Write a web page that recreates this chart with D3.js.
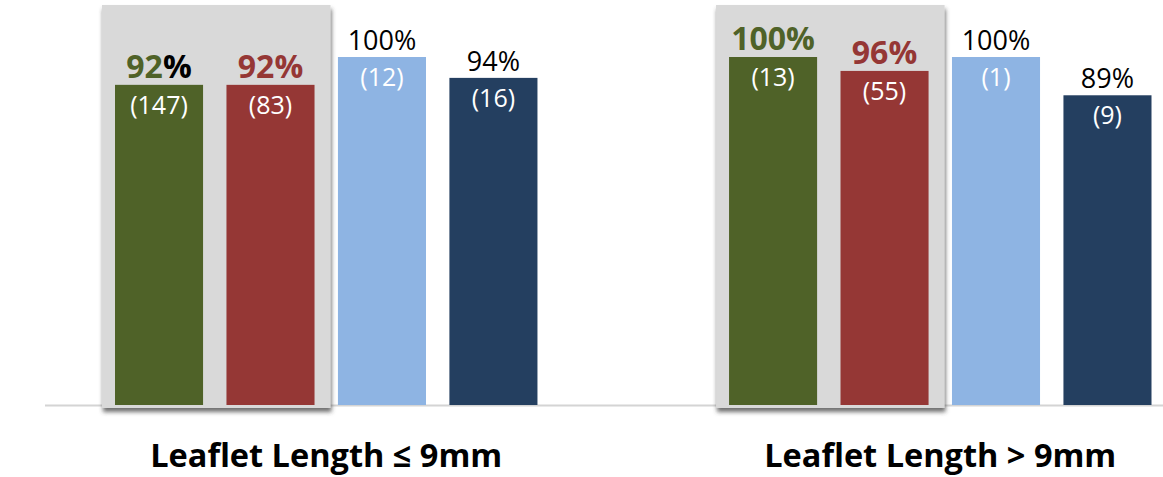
<!DOCTYPE html>
<html>
<head>
<meta charset="utf-8">
<script src="https://cdn.jsdelivr.net/npm/d3@7"></script>
<style>
  html, body { margin: 0; padding: 0; background: #fff; }
  svg { display: block; font-family: "Open Sans", "Noto Sans", sans-serif; }
</style>
</head>
<body>
<svg id="chart" width="1163" height="477"></svg>
<script>
// Leaflet length groups and the four series shown in each
const groups = ["Leaflet Length ≤ 9mm", "Leaflet Length > 9mm"];
const series = ["Series 1", "Series 2", "Series 3", "Series 4"];

// Percent success per group (one value per series)
const pctShort = [92, 92, 100, 94];
const pctLong  = [100, 96, 100, 89];

// Number of cases per group (one value per series)
const nShort = [147, 83, 12, 16];
const nLong  = [13, 55, 1, 9];

// Series that are highlighted inside the shaded panel
const highlighted = ["Series 1", "Series 2"];

const seriesColors = ["#4f6228", "#953735", "#8eb4e3", "#243f60"];

const pctByGroup = [pctShort, pctLong];
const nByGroup = [nShort, nLong];

const svg = d3.select("#chart");

const x0 = d3.scaleBand()
  .domain(groups)
  .range([115, 1151.5])
  .paddingInner(0.312)
  .paddingOuter(0);

const x1 = d3.scaleBand()
  .domain(series)
  .range([0, x0.bandwidth()])
  .paddingInner(0.21)
  .paddingOuter(0);

const y = d3.scaleLinear().domain([0, 100]).range([405, 57]);

const color = d3.scaleOrdinal().domain(series).range(seriesColors);

// Drop shadow for the shaded panels
const defs = svg.append("defs");
const f = defs.append("filter").attr("id", "panelShadow")
  .attr("x", "-5%").attr("y", "-5%").attr("width", "115%").attr("height", "115%");
f.append("feDropShadow")
  .attr("dx", 1).attr("dy", 4).attr("stdDeviation", 2)
  .attr("flood-color", "#404040").attr("flood-opacity", 0.75);

// Baseline
svg.append("line")
  .attr("x1", 45).attr("x2", 1163)
  .attr("y1", y(0) + 0.5).attr("y2", y(0) + 0.5)
  .attr("stroke", "#d4d4d4").attr("stroke-width", 2);

const rows = groups.map((g, gi) => ({
  group: g,
  gi,
  bars: series.map((s, si) => ({
    group: g, gi, series: s, si,
    pct: pctByGroup[gi][si],
    n: nByGroup[gi][si]
  }))
}));

const gGroups = svg.selectAll("g.group")
  .data(rows)
  .join("g")
  .attr("class", "group")
  .attr("transform", d => `translate(${x0(d.group)},0)`);

// Shaded panel behind the highlighted series
gGroups.append("rect")
  .attr("x", x1(highlighted[0]) - 13)
  .attr("width", x1(highlighted[highlighted.length - 1]) + x1.bandwidth() + 16 - (x1(highlighted[0]) - 13))
  .attr("y", 5)
  .attr("height", y(0) + 3 - 5)
  .attr("fill", "#d9d9d9")
  .attr("filter", "url(#panelShadow)");

// Bars
gGroups.selectAll("rect.bar")
  .data(d => d.bars)
  .join("rect")
  .attr("class", "bar")
  .attr("x", d => x1(d.series))
  .attr("width", x1.bandwidth())
  .attr("y", d => y(d.pct))
  .attr("height", d => y(0) - y(d.pct))
  .attr("fill", d => color(d.series));

// Percent labels above bars
const pctLabels = gGroups.selectAll("text.pct")
  .data(d => d.bars)
  .join("text")
  .attr("class", "pct")
  .attr("x", d => x1(d.series) + x1.bandwidth() / 2)
  .attr("y", d => y(d.pct) - 7)
  .attr("text-anchor", "middle")
  .style("font-size", d => highlighted.includes(d.series) ? "32px" : "27px")
  .style("font-weight", d => highlighted.includes(d.series) ? 700 : 400)
  .attr("fill", d => highlighted.includes(d.series) ? color(d.series) : "#000");

pctLabels.append("tspan").text(d => d.pct);
pctLabels.append("tspan")
  .text("%")
  .attr("fill", d => (d.gi === 0 && d.si === 0) ? "#000" : null);

// Case counts inside bars
gGroups.selectAll("text.count")
  .data(d => d.bars)
  .join("text")
  .attr("class", "count")
  .attr("x", d => x1(d.series) + x1.bandwidth() / 2)
  .attr("y", d => y(d.pct) + 29)
  .attr("text-anchor", "middle")
  .style("font-size", "25px")
  .attr("fill", "#fff")
  .text(d => `(${d.n})`);

// Group titles
gGroups.append("text")
  .attr("x", x0.bandwidth() / 2)
  .attr("y", 467)
  .attr("text-anchor", "middle")
  .style("font-size", "32.5px")
  .style("font-weight", 700)
  .attr("fill", "#000")
  .text(d => d.group);
</script>
</body>
</html>
